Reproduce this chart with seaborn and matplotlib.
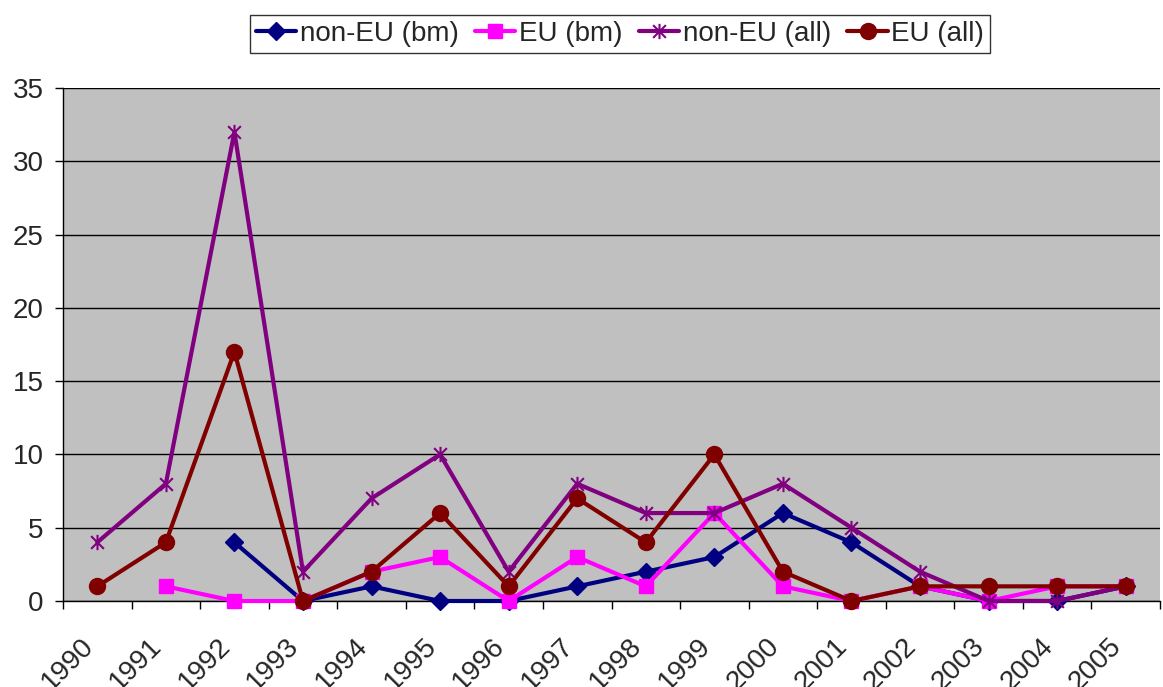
import numpy as np
import pandas as pd
import matplotlib
matplotlib.use('agg')
import matplotlib.pyplot as plt
from matplotlib.path import Path
from matplotlib.transforms import ScaledTranslation
import seaborn as sns

years = [str(y) for y in range(1990, 2006)]
non_eu_bm = [np.nan, np.nan, 4, 0, 1, 0, 0, 1, 2, 3, 6, 4, 1, 0, 0, 1]
eu_bm = [np.nan, 1, 0, 0, 2, 3, 0, 3, 1, 6, 1, 0, 1, 0, 1, 1]
non_eu_all = [4, 8, 32, 2, 7, 10, 2, 8, 6, 6, 8, 5, 2, 0, 0, 1]
eu_all = [1, 4, 17, 0, 2, 6, 1, 7, 4, 10, 2, 0, 1, 1, 1, 1]

# Excel-style star: an x with a vertical bar
star = Path([(-1, -1), (1, 1), (-1, 1), (1, -1), (0, -1.2), (0, 1.2)],
            [Path.MOVETO, Path.LINETO, Path.MOVETO, Path.LINETO, Path.MOVETO, Path.LINETO])

series = [
    ('non-EU (bm)', non_eu_bm, '#000080', 'D', 9.5),
    ('EU (bm)', eu_bm, '#FF00FF', 's', 10.5),
    ('non-EU (all)', non_eu_all, '#800080', star, 11),
    ('EU (all)', eu_all, '#800000', 'o', 11.5),
]

sns.set_style('white')
plt.rcParams['font.family'] = ['Liberation Sans', 'DejaVu Sans']

fig = plt.figure(figsize=(11.63, 6.87), dpi=100)
ax = fig.add_axes([63 / 1163, 86 / 687, 1097 / 1163, 513 / 687])
ax.set_facecolor('#C0C0C0')

for name, vals, color, marker, ms in series:
    df = pd.DataFrame({'x': np.arange(len(years)), 'y': vals}).dropna()
    sns.lineplot(data=df, x='x', y='y', ax=ax, color=color, marker=marker,
                 markersize=ms, linewidth=3, label=name,
                 markeredgecolor=color, markeredgewidth=1.5 if marker is star else 1,
                 clip_on=False, zorder=3)

ax.set_xlim(-0.5, 15.5)
ax.set_ylim(0, 35)
ax.set_yticks(range(0, 36, 5))
ax.yaxis.grid(True, color='black', linewidth=1)
ax.set_axisbelow(True)
ax.set_xlabel('')
ax.set_ylabel('')

ax.set_xticks(np.arange(16))
ax.set_xticks(np.arange(-0.5, 16, 1), minor=True)
ax.tick_params(axis='x', which='major', bottom=True, length=0, pad=20)
ax.tick_params(axis='x', which='minor', bottom=True, length=6, width=1, color='black', direction='out')
ax.tick_params(axis='y', left=True, length=6, width=1, color='black', direction='out',
               labelsize=20, pad=8)
ax.set_xticklabels(years, rotation=45, ha='right', rotation_mode='anchor', fontsize=20)
# nudge rotated year labels left/down to sit like Excel's
shift = ScaledTranslation(-17 / 100, -4 / 100, fig.dpi_scale_trans)
for lab in ax.get_xticklabels():
    lab.set_transform(lab.get_transform() + shift)

for s in ['top', 'right']:
    ax.spines[s].set_visible(False)
for s in ['left', 'bottom']:
    ax.spines[s].set_color('black')
    ax.spines[s].set_linewidth(1)

leg = ax.legend(loc='center', bbox_to_anchor=(620 / 1163, 1 - 34 / 687),
                bbox_transform=fig.transFigure, ncol=4, frameon=True,
                fontsize=20, handlelength=1.45, handletextpad=0.12, columnspacing=0.6,
                borderpad=0.2, fancybox=False, edgecolor='black')
leg.get_frame().set_linewidth(1)

fig.savefig('out.png', dpi=100)
